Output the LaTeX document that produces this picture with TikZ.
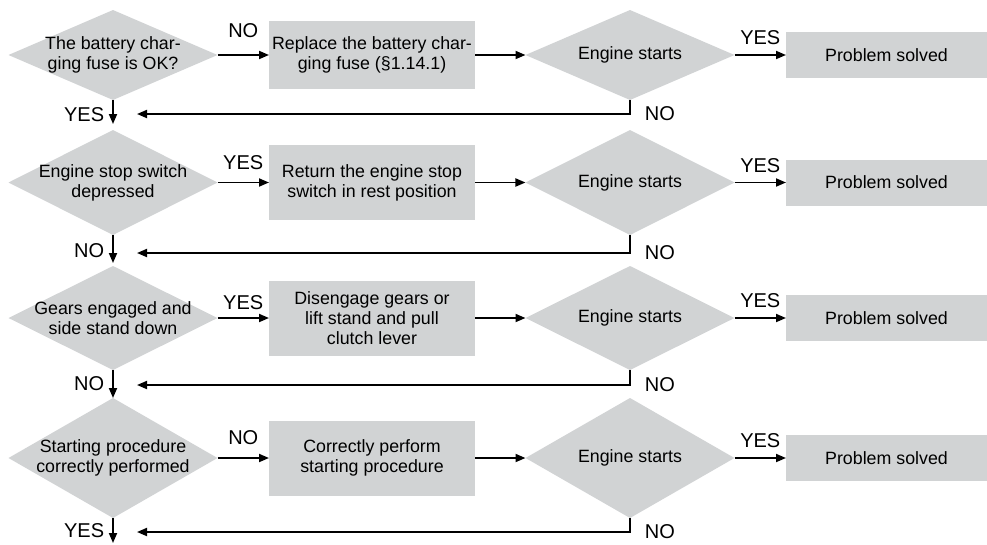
\documentclass[tikz,border=0pt]{standalone}
\usepackage{fontspec}
\setmainfont{Liberation Sans}
\usetikzlibrary{shapes.geometric,arrows.meta}
\definecolor{boxgray}{HTML}{D1D3D4}
\tikzset{
  flowtext/.style={font=\fontsize{17.8}{20}\selectfont, align=center},
  query/.style={flowtext, diamond, fill=boxgray, inner sep=-30pt, outer sep=0pt,
                minimum width=209pt},
  action/.style={flowtext, rectangle, fill=boxgray, inner sep=0pt, outer sep=0pt,
                 minimum width=206pt, minimum height=75pt},
  solved/.style={flowtext, rectangle, fill=boxgray, inner sep=0pt, outer sep=0pt,
                 minimum width=201pt, minimum height=46pt},
  answer/.style={font=\fontsize{20}{22}\selectfont, inner sep=1pt},
  flow/.style={line width=1.8pt, -{Triangle[length=10pt,width=8pt]}},
}

\begin{document}
\begin{tikzpicture}[x=1pt, y=-1pt]
    \useasboundingbox (0,0) rectangle (987,544);
    \node[query, minimum height=90pt] (q1) at (113,55) {The battery char-\\ging fuse is OK?};
    \node[action, minimum height=68pt] (act1) at (372,55) {Replace the battery char-\\ging fuse (§1.14.1)};
    \node[query, minimum height=90pt] (eng1) at (630,55) {Engine starts};
    \node[solved] (ok1) at (886.5,55) {Problem solved};
    \node[query, minimum height=105pt] (q2) at (113,182.5) {Engine stop switch\\depressed};
    \node[action] (act2) at (372,182.5) {Return the engine stop\\switch in rest position};
    \node[query, minimum height=105pt] (eng2) at (630,182.5) {Engine starts};
    \node[solved] (ok2) at (886.5,182.5) {Problem solved};
    \node[query, minimum height=104pt] (q3) at (113,318) {Gears engaged and\\side stand down};
    \node[action] (act3) at (372,318) {Disengage gears or\\lift stand and pull\\clutch lever};
    \node[query, minimum height=104pt] (eng3) at (630,318) {Engine starts};
    \node[solved] (ok3) at (886.5,318) {Problem solved};
    \node[query, minimum height=120pt] (q4) at (113,458) {Starting procedure\\correctly performed};
    \node[action] (act4) at (372,458) {Correctly perform\\starting procedure};
    \node[query, minimum height=120pt] (eng4) at (630,458) {Engine starts};
    \node[solved] (ok4) at (886.5,458) {Problem solved};
    \coordinate (back1) at (137,114);
    \coordinate (back2) at (137,253);
    \coordinate (back3) at (137,385);
    \coordinate (back4) at (137,532);
    \coordinate (out4) at (113,543);
    \draw[flow] (q1) -- node[answer, above=15pt] {NO} (act1);
    \draw[flow] (act1) -- (eng1);
    \draw[flow] (eng1) -- node[answer, above=8pt] {YES} (ok1);
    \draw[flow] (eng1) |- node[answer, right=13pt] {NO} (back1);
    \draw[flow, shorten >=6pt] (q1) -- node[answer, left=7pt] {YES} (q2);
    \draw[flow] (q2) -- node[answer, above=11pt] {YES} (act2);
    \draw[flow] (act2) -- (eng2);
    \draw[flow] (eng2) -- node[answer, above=8pt] {YES} (ok2);
    \draw[flow] (eng2) |- node[answer, right=13pt] {NO} (back2);
    \draw[flow, shorten >=3pt] (q2) -- node[answer, left=7pt] {NO} (q3);
    \draw[flow] (q3) -- node[answer, above=6pt] {YES} (act3);
    \draw[flow] (act3) -- (eng3);
    \draw[flow] (eng3) -- node[answer, above=8pt] {YES} (ok3);
    \draw[flow] (eng3) |- node[answer, right=13pt] {NO} (back3);
    \draw[flow] (q3) -- node[answer, left=7pt] {NO} (q4);
    \draw[flow] (q4) -- node[answer, above=11pt] {NO} (act4);
    \draw[flow] (act4) -- (eng4);
    \draw[flow] (eng4) -- node[answer, above=8pt] {YES} (ok4);
    \draw[flow] (eng4) |- node[answer, right=13pt] {NO} (back4);
    \draw[flow] (q4) -- node[answer, left=7pt] {YES} (out4);
  \end{tikzpicture}
\end{document}
